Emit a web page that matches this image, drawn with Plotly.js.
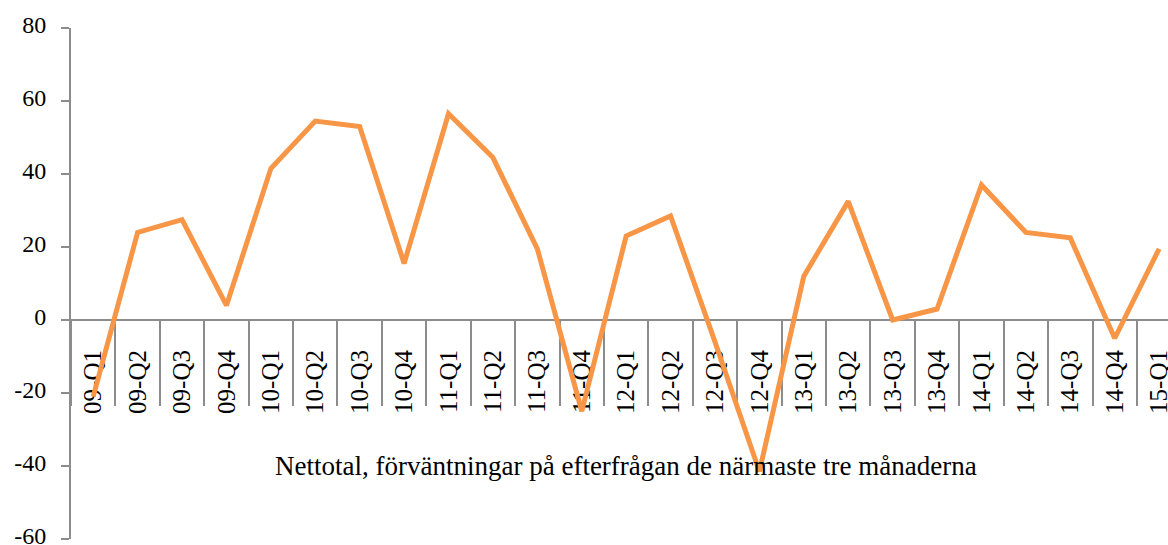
<!DOCTYPE html>
<html>
<head>
<meta charset="utf-8">
<script src="https://cdn.plot.ly/plotly-3.0.1.min.js"></script>
<style>html,body{margin:0;padding:0;background:#fff;}#chart{width:1168px;height:545px;}</style>
</head>
<body>
<div id="chart"></div>
<script>
const categories = ["09-Q1","09-Q2","09-Q3","09-Q4","10-Q1","10-Q2","10-Q3","10-Q4","11-Q1","11-Q2","11-Q3","11-Q4","12-Q1","12-Q2","12-Q3","12-Q4","13-Q1","13-Q2","13-Q3","13-Q4","14-Q1","14-Q2","14-Q3","14-Q4","15-Q1"];
const nettotal = [-21, 24, 27.5, 4, 41.5, 54.5, 53, 15.5, 56.5, 44.5, 19.5, -25, 23, 28.5, -6, -41.5, 12, 32.5, 0, 3, 37, 24, 22.5, -5, 19.5];
const yTicks = [-60, -40, -20, 0, 20, 40, 60, 80];
const chartTitle = "Nettotal, förväntningar på efterfrågan de närmaste tre månaderna";

const FONT = "Liberation Serif, Times New Roman, serif";
const GREY = "#8c8c8c";
const yMin = -60, yMax = 80;
const zeroPos = (0 - yMin) / (yMax - yMin);

const traces = [
  {x: categories, y: nettotal, type: "scatter", mode: "lines", xaxis: "x", yaxis: "y",
   line: {color: "#F79646", width: 5}, hoverinfo: "skip", showlegend: false},
  {x: categories, y: nettotal, type: "scatter", mode: "lines", xaxis: "x2", yaxis: "y",
   line: {color: "rgba(0,0,0,0)", width: 0}, hoverinfo: "skip", showlegend: false}
];

const layout = {
  width: 1168, height: 545,
  margin: {l: 71, r: 0, t: 28, b: 6},
  paper_bgcolor: "#fff", plot_bgcolor: "#fff",
  font: {family: FONT, color: "#000", size: 24},
  showlegend: false,
  xaxis: {
    type: "category", categoryarray: categories, categoryorder: "array",
    range: [-0.5, 24.2], anchor: "free", position: zeroPos,
    showline: true, linecolor: GREY, linewidth: 2,
    ticks: "", tickangle: -90, showgrid: false, zeroline: false,
    ticklabelstandoff: 19, ticklabeloverflow: "allow",
    tickfont: {family: FONT, size: 25, color: "#000"},
    layer: "below traces"
  },
  xaxis2: {
    type: "category", categoryarray: categories, categoryorder: "array",
    overlaying: "x", matches: "x", anchor: "free", position: zeroPos,
    range: [-0.5, 24.2], tickson: "boundaries",
    ticks: "outside", ticklen: 85, tickwidth: 2, tickcolor: GREY,
    showticklabels: false, showline: false, showgrid: false, zeroline: false,
    layer: "below traces"
  },
  yaxis: {
    range: [yMin, yMax], tickvals: yTicks, ticktext: yTicks.map(String),
    showline: true, linecolor: GREY, linewidth: 2,
    ticks: "outside", ticklen: 8, tickwidth: 2, tickcolor: GREY,
    showgrid: false, zeroline: false,
    tickfont: {family: FONT, size: 24, color: "#000"},
    ticklabelstandoff: 10, ticklabelshift: -3, ticklabeloverflow: "allow",
    layer: "below traces"
  },
  annotations: [{
    text: chartTitle, xref: "paper", yref: "paper",
    x: 0.5055, y: (-40 - yMin) / (yMax - yMin), xanchor: "center", yanchor: "middle",
    showarrow: false, font: {family: FONT, size: 27, color: "#000"}
  }]
};

Plotly.newPlot("chart", traces, layout, {displayModeBar: false, staticPlot: true});
</script>
</body>
</html>
